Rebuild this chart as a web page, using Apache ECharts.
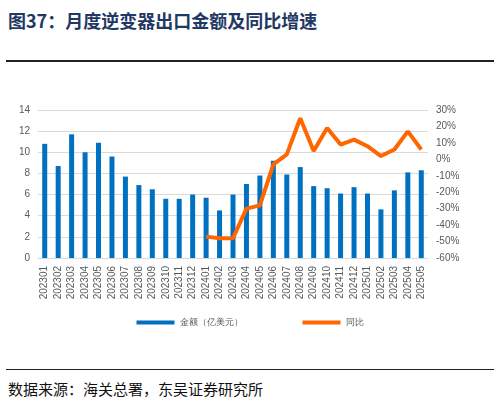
<!DOCTYPE html><html><head><meta charset="utf-8"><script src="https://cdn.jsdelivr.net/npm/echarts@6/dist/echarts.min.js"></script>
<style>body{margin:0;width:500px;height:417px;background:#fff;position:relative;font-family:"Noto Sans CJK SC";}
#t{position:absolute;left:8px;top:7px;font-size:18px;font-weight:bold;color:#1f3864;}
#l1{position:absolute;left:6px;right:6px;top:60px;border-top:2px solid #222;}
#l2{position:absolute;left:6px;right:6px;top:369px;border-top:1px solid #222;}
#s{position:absolute;left:8px;top:378px;font-size:15px;color:#111;}
#c{position:absolute;left:0;top:90px;width:500px;height:250px;}</style></head><body>
<div id="t">图37：月度逆变器出口金额及同比增速</div><div id="l1"></div><div id="c"></div><div id="l2"></div>
<div id="s">数据来源：海关总署，东吴证券研究所</div>
<script>
const categories=['202301','202302','202303','202304','202305','202306','202307','202308','202309','202310','202311','202312','202401','202402','202403','202404','202405','202406','202407','202408','202409','202410','202411','202412','202501','202502','202503','202504','202505'];
const amount=[10.8,8.7,11.7,10.0,10.9,9.6,7.7,6.9,6.5,5.6,5.6,6.0,5.7,4.5,6.0,7.0,7.8,9.2,7.9,8.6,6.8,6.6,6.1,6.7,6.1,4.6,6.4,8.1,8.3];
const yoy=[null,null,null,null,null,null,null,null,null,null,null,null,-47,-48,-48,-30,-28,-3,3,25,5,19,9,12,8,2,6,17,6];
const c=echarts.init(document.getElementById('c'));
const ax={color:'#595959',fontSize:10};
c.setOption({animation:false,
grid:{left:38,right:72,top:20,bottom:82},
legend:{bottom:8,itemGap:60,textStyle:{fontSize:9,color:'#595959'},data:[{name:'金额（亿美元）',icon:'rect'},{name:'同比',icon:'rect'}],itemWidth:38,itemHeight:4},
xAxis:{type:'category',data:categories,axisTick:{show:false},axisLine:{lineStyle:{color:'#d9d9d9'}},axisLabel:Object.assign({rotate:90,interval:0},ax)},
yAxis:[{type:'value',min:0,max:14,interval:2,axisLabel:ax,splitLine:{lineStyle:{color:'#d9d9d9'}}},
{type:'value',min:-60,max:30,interval:10,axisLabel:Object.assign({formatter:'{value}%'},ax),splitLine:{show:false}}],
series:[{name:'金额（亿美元）',type:'bar',data:amount,barWidth:5,itemStyle:{color:'#0070c0'}},
{name:'同比',type:'line',yAxisIndex:1,data:yoy,symbol:'none',lineStyle:{color:'#ff6600',width:4},itemStyle:{color:'#ff6600'}}]});
</script></body></html>
